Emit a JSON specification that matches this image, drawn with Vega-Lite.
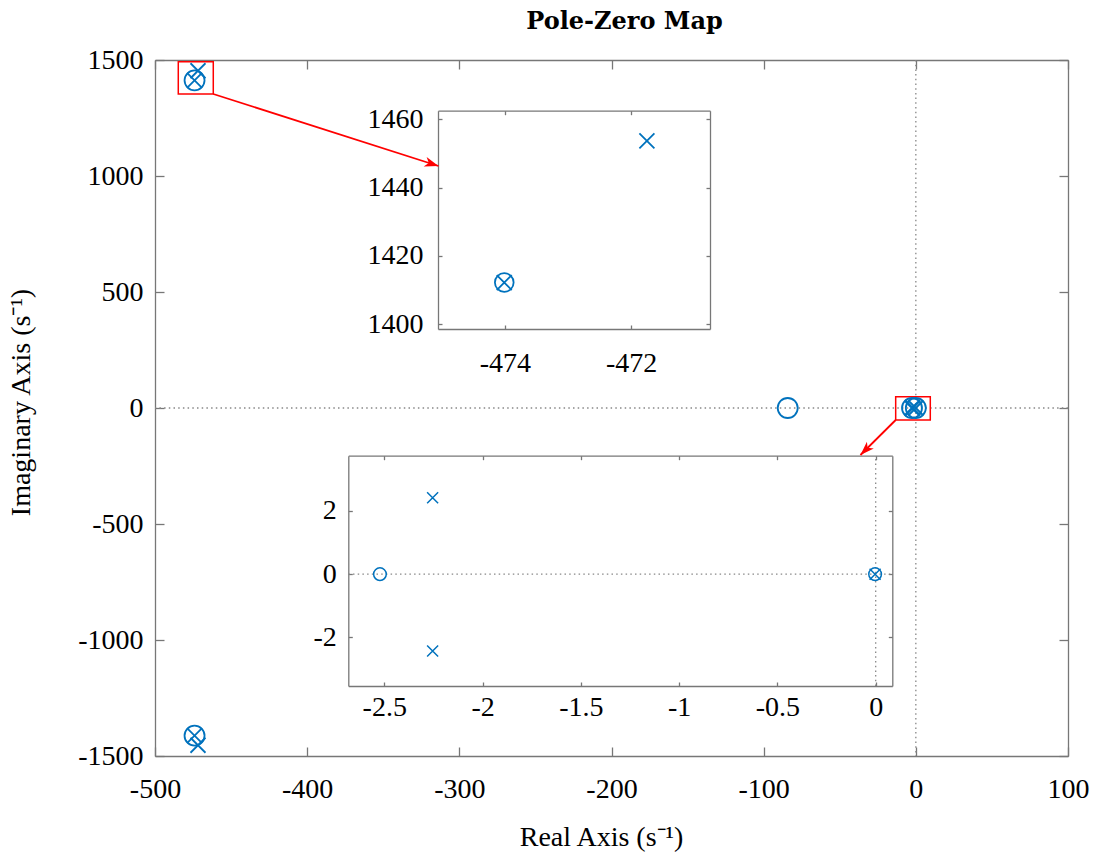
{
  "$schema": "https://vega.github.io/schema/vega-lite/v6.json",
  "width": 913,
  "height": 696,
  "autosize": {"type": "none"},
  "padding": {"left": 155, "top": 60, "right": 25, "bottom": 101},
  "background": "white",
  "title": {"text": "Pole-Zero Map", "font": "DejaVu Serif", "fontSize": 24, "fontWeight": "bold", "color": "#000", "anchor": "middle", "frame": "group", "dx": 13, "offset": 12},
  "config": {
    "view": {"stroke": null},
    "axis": {
      "grid": false,
      "domainColor": "#777",
      "domainWidth": 1.3,
      "tickColor": "#777",
      "tickWidth": 1.3,
      "labelFont": "Liberation Serif",
      "labelFontSize": 28,
      "labelColor": "#000",
      "labelFlush": false,
      "labelOverlap": false,
      "labelBound": false,
      "titleFont": "Liberation Serif",
      "titleFontSize": 28,
      "titleFontWeight": "normal",
      "titleColor": "#000"
    }
  },
  "datasets": {
    "zeros": [
      {"re": -474.01, "im": 1412.2},
      {"re": -474.01, "im": -1412.2},
      {"re": -84.2, "im": 0},
      {"re": -2.522, "im": 0},
      {"re": -0.003, "im": 0}
    ],
    "poles": [
      {"re": -474.01, "im": 1412.2},
      {"re": -474.01, "im": -1412.2},
      {"re": -471.75, "im": 1453.7},
      {"re": -471.75, "im": -1453.7},
      {"re": -2.254, "im": 2.42},
      {"re": -2.254, "im": -2.43},
      {"re": -0.003, "im": 0}
    ],
    "boxes": [
      {"x": -484.7, "x2": -461.7, "y": 1353.4, "y2": 1492.6},
      {"x": -13.24, "x2": 9.5, "y": -51.7, "y2": 48.7}
    ],
    "arrows": [
      {"id": "a1", "x": -461.7, "y": 1353.4, "x2": -313.7, "y2": 1043.1},
      {"id": "a2", "x": -13.24, "y": -51.7, "x2": -36.4, "y2": -202.6}
    ]
  },
  "layer": [
    {
      "resolve": {"axis": {"x": "independent", "y": "independent"}},
      "layer": [
        {
          "data": {"values": [{}]},
          "mark": {"type": "rule", "color": "#888", "strokeDash": [1.5, 3.2], "strokeWidth": 1.3},
          "encoding": {
            "y": {"datum": 0, "type": "quantitative", "scale": {"domain": [-1500, 1500], "nice": false, "zero": false}, "axis": null}
          }
        },
        {
          "data": {"values": [{}]},
          "mark": {"type": "rule", "color": "#888", "strokeDash": [1.5, 3.2], "strokeWidth": 1.3},
          "encoding": {
            "x": {"datum": 0, "type": "quantitative", "scale": {"domain": [-500, 100], "nice": false, "zero": false}, "axis": null}
          }
        },
        {
          "data": {"name": "boxes"},
          "mark": {"type": "rect", "fillOpacity": 0, "stroke": "#ff0000", "strokeWidth": 1.5},
          "encoding": {
            "x": {"field": "x", "type": "quantitative", "scale": {"domain": [-500, 100], "nice": false, "zero": false}, "axis": null},
            "x2": {"field": "x2"},
            "y": {"field": "y", "type": "quantitative", "scale": {"domain": [-1500, 1500], "nice": false, "zero": false}, "axis": null},
            "y2": {"field": "y2"}
          }
        },
        {
          "data": {"name": "arrows"},
          "mark": {"type": "rule", "color": "#ff0000", "strokeWidth": 1.8},
          "encoding": {
            "x": {"field": "x", "type": "quantitative", "scale": {"domain": [-500, 100], "nice": false, "zero": false}, "axis": null},
            "x2": {"field": "x2"},
            "y": {"field": "y", "type": "quantitative", "scale": {"domain": [-1500, 1500], "nice": false, "zero": false}, "axis": null},
            "y2": {"field": "y2"}
          }
        },
        {
          "data": {"name": "arrows"},
          "transform": [{"filter": "datum.id === 'a1'"}],
          "mark": {"type": "point", "shape": "M0,0L-0.7,2L0,1.45L0.7,2Z", "filled": true, "color": "#ff0000", "opacity": 1, "size": 196, "angle": 107.7},
          "encoding": {
            "x": {"field": "x2", "type": "quantitative", "scale": {"domain": [-500, 100], "nice": false, "zero": false}, "axis": null},
            "y": {"field": "y2", "type": "quantitative", "scale": {"domain": [-1500, 1500], "nice": false, "zero": false}, "axis": null}
          }
        },
        {
          "data": {"name": "arrows"},
          "transform": [{"filter": "datum.id === 'a2'"}],
          "mark": {"type": "point", "shape": "M0,0L-0.7,2L0,1.45L0.7,2Z", "filled": true, "color": "#ff0000", "opacity": 1, "size": 196, "angle": 225.1},
          "encoding": {
            "x": {"field": "x2", "type": "quantitative", "scale": {"domain": [-500, 100], "nice": false, "zero": false}, "axis": null},
            "y": {"field": "y2", "type": "quantitative", "scale": {"domain": [-1500, 1500], "nice": false, "zero": false}, "axis": null}
          }
        },
        {
          "data": {"name": "zeros"},
          "mark": {"type": "point", "shape": "circle", "filled": false, "color": "#0072BD", "opacity": 1, "size": 400, "strokeWidth": 1.8},
          "encoding": {
            "x": {"field": "re", "type": "quantitative", "scale": {"domain": [-500, 100], "nice": false, "zero": false},
              "axis": {"orient": "bottom", "values": [-500, -400, -300, -200, -100, 0, 100], "format": "d", "labelExpr": "replace(datum.label, '−', '-')", "tickSize": -9, "labelPadding": 28,
                "labelFont": "Liberation Serif", "labelFontSize": 28,
                "title": "Real Axis (s⁻¹)", "titleX": 446, "titleY": 89, "titleBaseline": "alphabetic", "titleAlign": "center", "titleAnchor": null}},
            "y": {"field": "im", "type": "quantitative", "scale": {"domain": [-1500, 1500], "nice": false, "zero": false},
              "axis": {"orient": "left", "values": [-1500, -1000, -500, 0, 500, 1000, 1500], "format": "d", "labelExpr": "replace(datum.label, '−', '-')", "tickSize": -9, "labelPadding": 21,
                "labelFont": "Liberation Serif", "labelFontSize": 28,
                "title": "Imaginary Axis (s⁻¹)", "titleX": -126, "titleY": 342, "titleAngle": -90, "titleBaseline": "alphabetic", "titleAlign": "center", "titleAnchor": null}}
          }
        },
        {
          "data": {"name": "poles"},
          "mark": {"type": "point", "shape": "M-1,-1L1,1M-1,1L1,-1", "filled": false, "color": "#0072BD", "opacity": 1, "size": 225, "strokeWidth": 1.8},
          "encoding": {
            "x": {"field": "re", "type": "quantitative", "scale": {"domain": [-500, 100], "nice": false, "zero": false},
              "axis": {"orient": "top", "values": [-500, -400, -300, -200, -100, 0, 100], "labels": false, "tickSize": -9, "title": null}},
            "y": {"field": "im", "type": "quantitative", "scale": {"domain": [-1500, 1500], "nice": false, "zero": false},
              "axis": {"orient": "right", "values": [-1500, -1000, -500, 0, 500, 1000, 1500], "labels": false, "tickSize": -9, "title": null}}
          }
        }
      ]
    },
    {
      "resolve": {"axis": {"x": "independent", "y": "independent"}},
      "layer": [
        {
          "data": {"name": "zeros"},
          "transform": [{"filter": {"field": "re", "range": [-476, -470]}}, {"filter": {"field": "im", "range": [1390, 1470]}}],
          "mark": {"type": "point", "shape": "circle", "filled": false, "color": "#0072BD", "opacity": 1, "size": 350, "strokeWidth": 1.8},
          "encoding": {
            "x": {"field": "re", "type": "quantitative", "scale": {"domain": [-475.06, -470.75], "range": [283, 555], "nice": false, "zero": false},
              "axis": {"orient": "bottom", "offset": -427, "values": [-474, -472], "format": "d", "labelExpr": "replace(datum.label, '−', '-')", "tickSize": -4, "labelPadding": 24,
                "labelFont": "Liberation Serif", "labelFontSize": 28, "title": null}},
            "y": {"field": "im", "type": "quantitative", "scale": {"domain": [1398.6, 1462.5], "range": [269, 50.7], "nice": false, "zero": false},
              "axis": {"orient": "left", "offset": -283, "values": [1400, 1420, 1440, 1460], "format": "d", "tickSize": -4, "labelPadding": 19,
                "labelFont": "Liberation Serif", "labelFontSize": 28, "title": null}}
          }
        },
        {
          "data": {"name": "poles"},
          "transform": [{"filter": {"field": "re", "range": [-476, -470]}}, {"filter": {"field": "im", "range": [1390, 1470]}}],
          "mark": {"type": "point", "shape": "M-1,-1L1,1M-1,1L1,-1", "filled": false, "color": "#0072BD", "opacity": 1, "size": 225, "strokeWidth": 1.8},
          "encoding": {
            "x": {"field": "re", "type": "quantitative", "scale": {"domain": [-475.06, -470.75], "range": [283, 555], "nice": false, "zero": false},
              "axis": {"orient": "top", "offset": -50.7, "values": [-474, -472], "labels": false, "tickSize": -4, "title": null}},
            "y": {"field": "im", "type": "quantitative", "scale": {"domain": [1398.6, 1462.5], "range": [269, 50.7], "nice": false, "zero": false},
              "axis": {"orient": "right", "offset": -358, "values": [1400, 1420, 1440, 1460], "labels": false, "tickSize": -4, "title": null}}
          }
        }
      ]
    },
    {
      "resolve": {"axis": {"x": "independent", "y": "independent"}},
      "layer": [
        {
          "data": {"values": [{}]},
          "mark": {"type": "rule", "color": "#888", "strokeDash": [1.5, 3.2], "strokeWidth": 1.3},
          "encoding": {
            "x": {"datum": -2.683, "type": "quantitative", "scale": {"domain": [-2.683, 0.0845], "range": [193.3, 737.3], "nice": false, "zero": false}, "axis": null},
            "x2": {"datum": 0.0845},
            "y": {"datum": 0, "type": "quantitative", "scale": {"domain": [-3.54, 3.75], "range": [626, 395.7], "nice": false, "zero": false}, "axis": null}
          }
        },
        {
          "data": {"values": [{}]},
          "mark": {"type": "rule", "color": "#888", "strokeDash": [1.5, 3.2], "strokeWidth": 1.3},
          "encoding": {
            "x": {"datum": 0, "type": "quantitative", "scale": {"domain": [-2.683, 0.0845], "range": [193.3, 737.3], "nice": false, "zero": false}, "axis": null},
            "y": {"datum": -3.54, "type": "quantitative", "scale": {"domain": [-3.54, 3.75], "range": [626, 395.7], "nice": false, "zero": false}, "axis": null},
            "y2": {"datum": 3.75}
          }
        },
        {
          "data": {"name": "zeros"},
          "transform": [{"filter": {"field": "re", "range": [-2.7, 0.1]}}, {"filter": {"field": "im", "range": [-4, 4]}}],
          "mark": {"type": "point", "shape": "circle", "filled": false, "color": "#0072BD", "opacity": 1, "size": 160, "strokeWidth": 1.5},
          "encoding": {
            "x": {"field": "re", "type": "quantitative", "scale": {"domain": [-2.683, 0.0845], "range": [193.3, 737.3], "nice": false, "zero": false},
              "axis": {"orient": "bottom", "offset": -70, "values": [-2.5, -2, -1.5, -1, -0.5, 0], "format": "~g", "labelExpr": "replace(datum.label, '−', '-')", "tickSize": -4, "labelPadding": 11,
                "labelFont": "Liberation Serif", "labelFontSize": 28, "title": null}},
            "y": {"field": "im", "type": "quantitative", "scale": {"domain": [-3.54, 3.75], "range": [626, 395.7], "nice": false, "zero": false},
              "axis": {"orient": "left", "offset": -193.3, "values": [-2, 0, 2], "format": "~g", "labelExpr": "replace(datum.label, '−', '-')", "tickSize": -4, "labelPadding": 16,
                "labelFont": "Liberation Serif", "labelFontSize": 28, "title": null}}
          }
        },
        {
          "data": {"name": "poles"},
          "transform": [{"filter": {"field": "re", "range": [-2.7, 0.1]}}, {"filter": {"field": "im", "range": [-4, 4]}}],
          "mark": {"type": "point", "shape": "M-1,-1L1,1M-1,1L1,-1", "filled": false, "color": "#0072BD", "opacity": 1, "size": 121, "strokeWidth": 1.5},
          "encoding": {
            "x": {"field": "re", "type": "quantitative", "scale": {"domain": [-2.683, 0.0845], "range": [193.3, 737.3], "nice": false, "zero": false},
              "axis": {"orient": "top", "offset": -395.7, "values": [-2.5, -2, -1.5, -1, -0.5, 0], "labels": false, "tickSize": -4, "title": null}},
            "y": {"field": "im", "type": "quantitative", "scale": {"domain": [-3.54, 3.75], "range": [626, 395.7], "nice": false, "zero": false},
              "axis": {"orient": "right", "offset": -175.7, "values": [-2, 0, 2], "labels": false, "tickSize": -4, "title": null}}
          }
        }
      ]
    }
  ],
  "resolve": {"scale": {"x": "independent", "y": "independent"}, "axis": {"x": "independent", "y": "independent"}}
}
